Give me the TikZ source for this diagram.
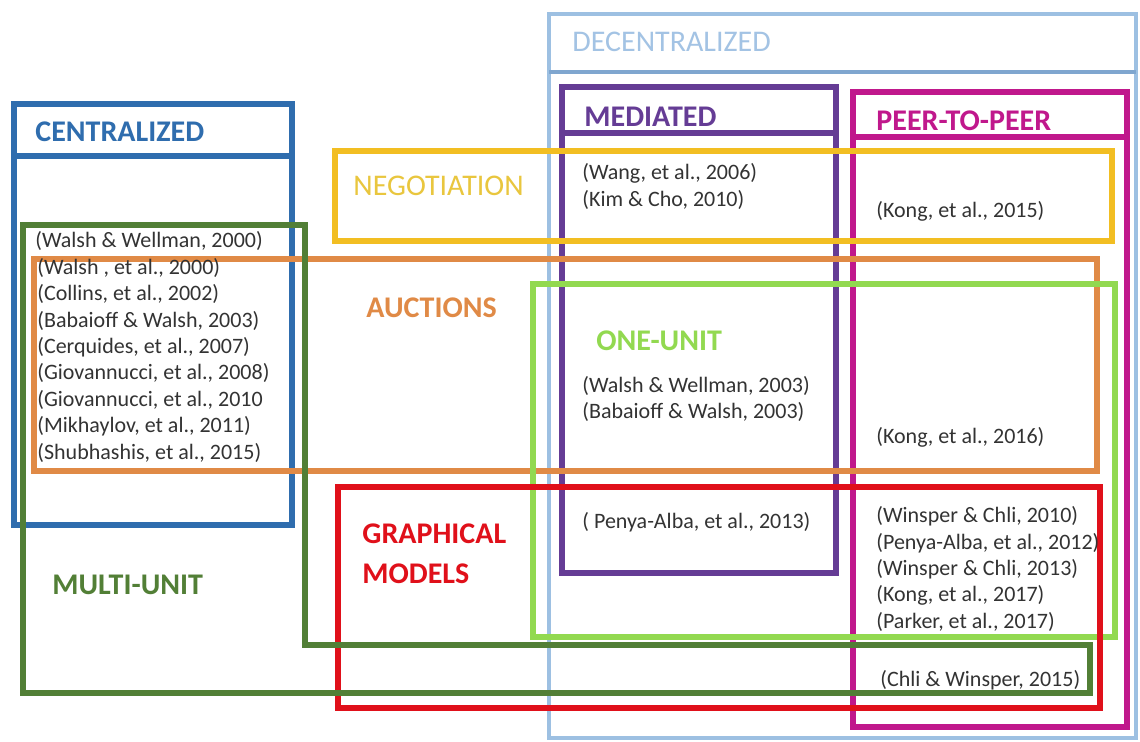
\documentclass[tikz,border=0pt]{standalone}
\usepackage{fontspec}
\setmainfont{Carlito}
\definecolor{decblue}{HTML}{9DC0E2}
\definecolor{decline}{HTML}{7FA6CF}
\definecolor{decText}{HTML}{A3C3E4}
\definecolor{cenblue}{HTML}{2F6DAE}
\definecolor{mugreen}{HTML}{527F36}
\definecolor{aucorange}{HTML}{E08A46}
\definecolor{negyellow}{HTML}{F2BE22}
\definecolor{negtext}{HTML}{E9C63E}
\definecolor{ougreen}{HTML}{92D950}
\definecolor{gmred}{HTML}{E0101A}
\definecolor{medpurple}{HTML}{653C95}
\definecolor{p2pmag}{HTML}{C0188C}
\definecolor{citegray}{HTML}{333333}
\begin{document}
\begin{tikzpicture}[x=0.5pt,y=-0.5pt,
  box/.style={line width=2.6pt},
  cite/.style={text=citegray,font=\fontsize{11}{13.2}\selectfont,inner sep=0pt,anchor=base west},
  lab/.style={font=\fontsize{15}{18}\selectfont\bfseries,inner sep=0pt,anchor=base west},
  labr/.style={font=\fontsize{15}{18}\selectfont,inner sep=0pt,anchor=base west}]
\useasboundingbox (0,0) rectangle (1140,742);
\fill[white] (0,0) rectangle (1140,742);
% DECENTRALIZED
\draw[decblue,line width=1.6pt] (549,14) rectangle (1136,738);
\draw[decline,line width=2pt] (549,72) -- (1136,72);
% CENTRALIZED
\draw[box,cenblue] (14,104) rectangle (292,525);
\draw[box,cenblue] (14,156) -- (292,156);
% MEDIATED
\draw[box,medpurple] (562,87) rectangle (836,573);
\draw[box,medpurple] (562,133) -- (836,133);
% PEER-TO-PEER
\draw[box,p2pmag] (853,92) rectangle (1127,727);
\draw[box,p2pmag] (853,137) -- (1127,137);
% NEGOTIATION
\draw[box,negyellow] (335,151) rectangle (1112,241);
% AUCTIONS
\draw[box,aucorange] (34,259) rectangle (1097,471);
% ONE-UNIT
\draw[box,ougreen] (533,284) rectangle (1115,637);
% GRAPHICAL MODELS
\draw[box,gmred] (338,487) rectangle (1100,708);
% MULTI-UNIT
\draw[box,mugreen] (23,225) -- (305,225) -- (305,645) -- (1090,645) -- (1090,693) -- (23,693) -- cycle;

% labels
\node[labr,text=decText] (tdec) at (572,52) {DECENTRALIZED};
\node[lab,text=cenblue] (tcen) at (35,142) {CENTRALIZED};
\node[lab,text=medpurple] (tmed) at (584,127) {MEDIATED};
\node[lab,text=p2pmag] (tp2p) at (876,131) {PEER-TO-PEER};
\node[labr,text=negtext] (tneg) at (353,196) {NEGOTIATION};
\node[lab,text=aucorange] (tauc) at (366,318) {AUCTIONS};
\node[lab,text=ougreen] (tone) at (596,351) {ONE-UNIT};
\node[lab,text=gmred] (tgm1) at (362,544) {GRAPHICAL};
\node[lab,text=gmred] (tgm2) at (362,583) {MODELS};
\node[lab,text=mugreen] (tmu) at (52,595) {MULTI-UNIT};

% citations, centralized
\node[cite] (c1) at (35,248) {(Walsh \& Wellman, 2000)};
\foreach \t [count=\i from 2] in {{(Walsh , et al., 2000)},{(Collins, et al., 2002)},{(Babaioff \& Walsh, 2003)},{(Cerquides, et al., 2007)},{(Giovannucci, et al., 2008)},{(Giovannucci, et al., 2010},{(Mikhaylov, et al., 2011)},{(Shubhashis, et al., 2015)}}
  \node[cite] (c\i) at (37,{248+26.4*(\i-1)}) {\t};

% mediated
\node[cite] (m1) at (582,180) {(Wang, et al., 2006)};
\node[cite] (m2) at (582,207) {(Kim \& Cho, 2010)};
\node[cite] (m3) at (582,393) {(Walsh \& Wellman, 2003)};
\node[cite] (m4) at (582,419) {(Babaioff \& Walsh, 2003)};
\node[cite] (m5) at (582,529) {( Penya-Alba, et al., 2013)};

% peer-to-peer
\node[cite] (p1) at (876,218) {(Kong, et al., 2015)};
\node[cite] (p2) at (876,444) {(Kong, et al., 2016)};
\foreach \t [count=\i from 3] in {{(Winsper \& Chli, 2010)},{(Penya-Alba, et al., 2012)},{(Winsper \& Chli, 2013)},{(Kong, et al., 2017)},{(Parker, et al., 2017)}}
  \node[cite] (p\i) at (876,{523+26.3*(\i-3)}) {\t};
\node[cite] (p8) at (880,686) {(Chli \& Winsper, 2015)};
\end{tikzpicture}
\end{document}
